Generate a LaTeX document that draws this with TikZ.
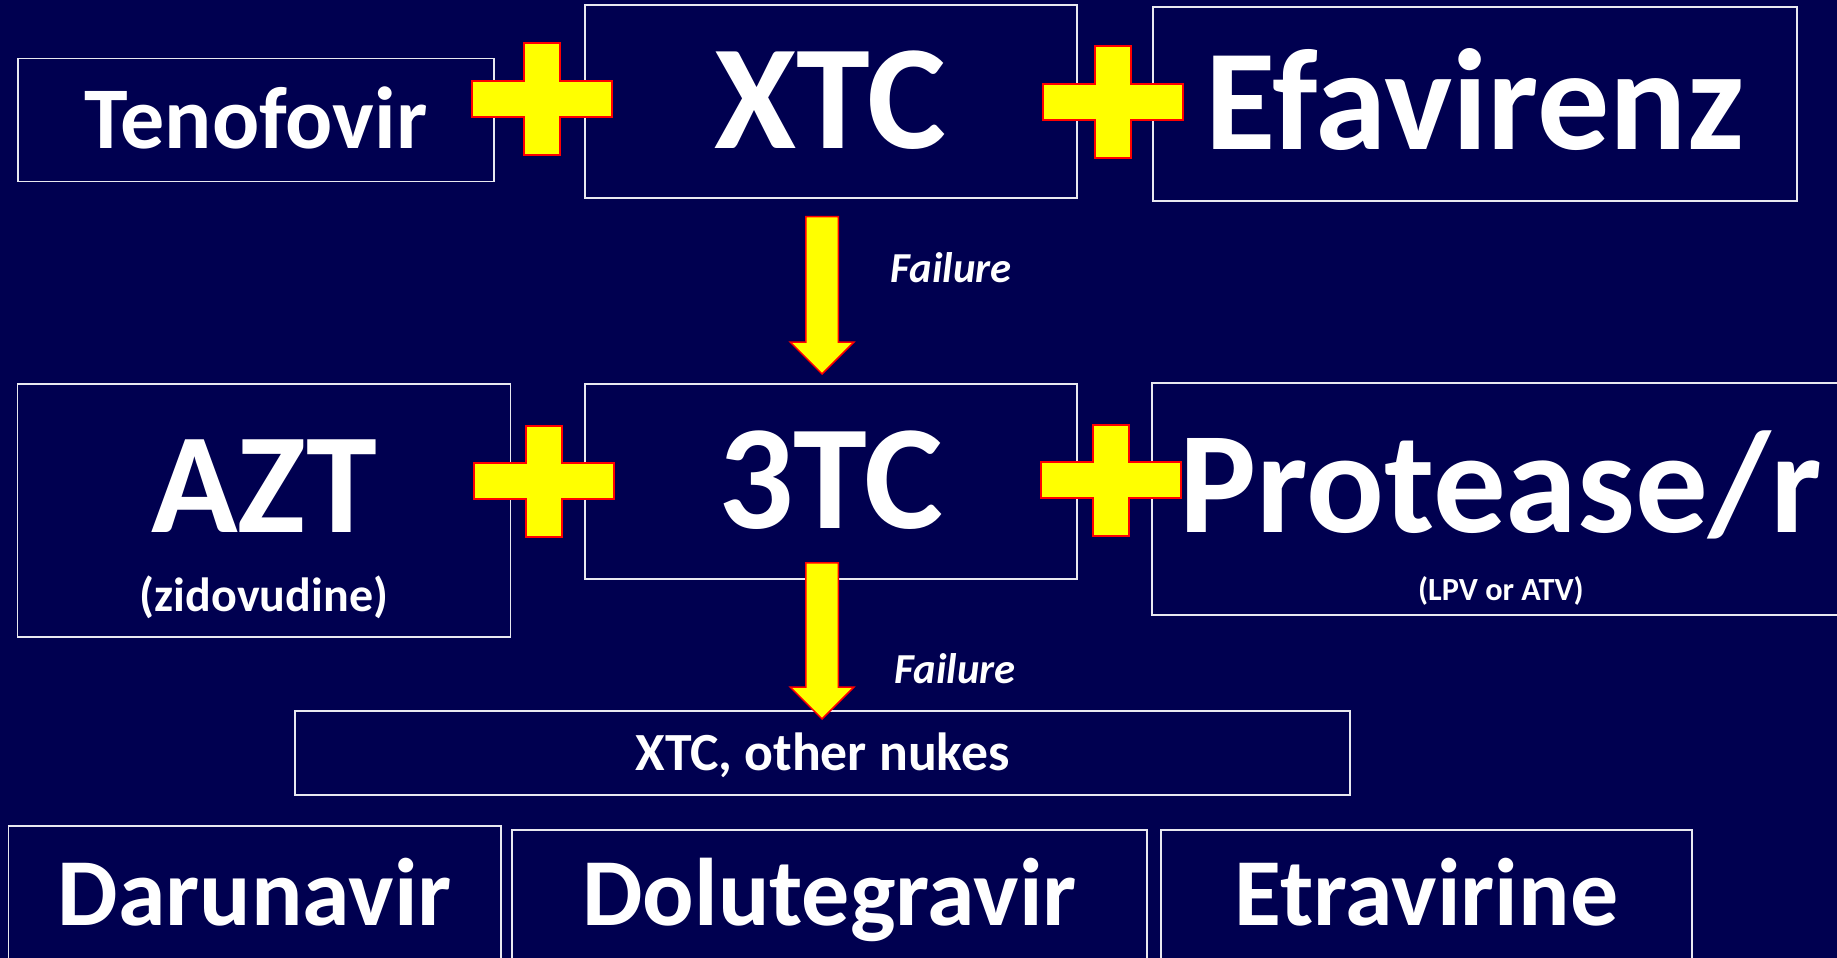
\documentclass[tikz,border=0pt]{standalone}
\usepackage{fontspec}
\setmainfont{Carlito}
\usetikzlibrary{positioning,shapes.arrows}
\definecolor{slide}{HTML}{000050}
\definecolor{boxline}{HTML}{E8E8F0}
\definecolor{plusfill}{HTML}{FFFF00}
\definecolor{plusedge}{HTML}{FF0000}

\tikzset{
  plussign/.pic={
    \draw[draw=plusedge, fill=plusfill, line width=2pt]
      (-18,-55.5) -- (18,-55.5) -- (18,-18) -- (70,-18) -- (70,18) -- (18,18)
      -- (18,55.5) -- (-18,55.5) -- (-18,18) -- (-70,18) -- (-70,-18) -- (-18,-18) -- cycle;
  }
}

\begin{document}
\begin{tikzpicture}[
    x=1pt, y=-1pt, text=white,
    drug/.style={draw=boxline, line width=1.8pt, inner sep=0pt, text depth=0pt},
    namexl/.style={font=\fontsize{149}{150}\selectfont\bfseries, text height=94pt},
    namel/.style={font=\fontsize{143}{145}\selectfont\bfseries, text height=90pt},
    namem/.style={font=\fontsize{96}{98}\selectfont\bfseries, text height=61pt},
    names/.style={font=\fontsize{88}{90}\selectfont\bfseries, text height=56pt},
    namebar/.style={font=\fontsize{53.7}{55}\selectfont\bfseries, text height=34pt},
    subnote/.style={inner sep=0pt, font=\bfseries},
    failnote/.style={inner sep=0pt, font=\fontsize{42.7}{44}\selectfont\bfseries\itshape,
                     text height=27pt, text depth=0pt},
    failarrow/.style={single arrow, draw=plusedge, fill=plusfill, line width=1.5pt,
                      single arrow head extend=15.5pt, minimum width=62pt,
                      shape border rotate=270, inner sep=15.5pt, anchor=tip},
  ]
  \useasboundingbox (0,0) rectangle (1837,958);
  \fill[slide] (0,0) rectangle (1837,958);

  % ---- first line
  \node[drug, names, minimum width=476pt, minimum height=123pt] (teno) at (256,120) {Tenofovir};
  \node[drug, namexl, minimum width=492pt, minimum height=193pt] (xtc) at (830.6,101.4) {XTC};
  \node[drug, namexl, font=\fontsize{144}{146}\selectfont\bfseries, text height=91pt,
        minimum width=644pt, minimum height=194.5pt] (efav) at (1475,104) {Efavirenz};
  \pic at (542,99) {plussign};
  \pic at (1113,102) {plussign};

  % ---- second line
  \node[drug, namel, text depth=47pt, minimum width=493pt, minimum height=253pt] (azt) at (264,510.5) {AZT};
  \node[subnote, font=\fontsize{48}{50}\selectfont\bfseries, above=19pt of azt.south] (aztsub) {(zidovudine)};
  \node[drug, namexl, minimum width=492pt, minimum height=195pt] (tc3) at (830.6,481.4) {3TC};
  \node[drug, namexl, font=\fontsize{145}{147}\selectfont\bfseries, text height=92pt, text depth=26pt,
        minimum width=698pt, minimum height=232pt] (prot) at (1500.9,499) {Protease/r};
  \node[subnote, font=\fontsize{32.3}{34}\selectfont\bfseries, above=10pt of prot.south] (protsub) {(LPV or ATV)};
  \pic at (544,481) {plussign};
  \pic at (1110.7,480) {plussign};

  % ---- failure steps
  \node[failarrow, minimum height=157.3pt] (step1) at (822,375) {};
  \node[failnote] (fail1) at (951,268.5) {Failure};
  \node[drug, namebar, minimum width=1055pt, minimum height=84.5pt] (nukes) at (822.5,753) {XTC, other nukes};
  \node[failarrow, minimum height=156pt] (step2) at (822,720) {};
  \node[failnote] (fail2) at (955,670) {Failure};

  % ---- third line, cut by the page
  \node[drug, namem, minimum width=492.6pt, minimum height=138pt] (daru) at (254.7,895) {Darunavir};
  \node[drug, namem, minimum width=635pt, minimum height=130pt] (dolu) at (829.5,895) {Dolutegravir};
  \node[drug, namem, minimum width=531pt, minimum height=130pt] (etra) at (1426.5,895) {Etravirine};
\end{tikzpicture}
\end{document}
